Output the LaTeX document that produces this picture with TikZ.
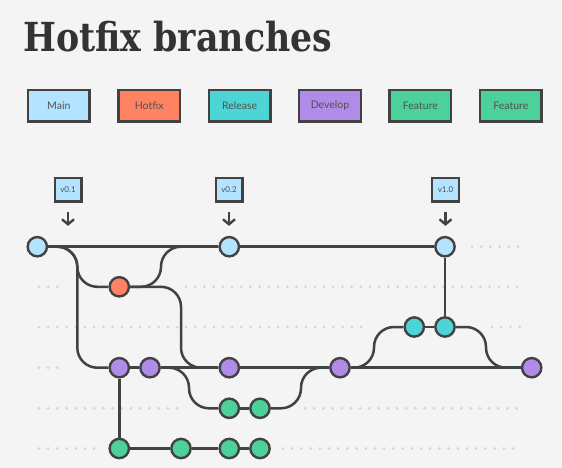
\documentclass[tikz,border=0pt]{standalone}
\usepackage{fontspec}
\setmainfont{Lato}
\newfontfamily\slabfont[FakeStretch=0.87]{DejaVu Serif}
\usetikzlibrary{arrows.meta, positioning}
\definecolor{mybg}{RGB}{244,244,244}
\definecolor{mydark}{RGB}{66,66,66}
\definecolor{mytitle}{RGB}{51,51,51}
\definecolor{mytext}{RGB}{80,80,80}
\definecolor{mydots}{RGB}{212,212,212}
\definecolor{mainblue}{RGB}{179,227,255}
\definecolor{hotred}{RGB}{255,131,99}
\definecolor{relteal}{RGB}{77,213,214}
\definecolor{devpurple}{RGB}{176,139,232}
\definecolor{featgreen}{RGB}{76,209,155}
\tikzset{
  key/.style={rectangle, draw=mydark, line width=2.4pt, minimum width=61.6pt, minimum height=31.6pt, inner sep=0pt, font=\fontsize{10.5}{11}\selectfont, text=mytext},
  tag/.style={rectangle, draw=mydark, fill=mainblue, line width=2.4pt, minimum width=26.6pt, minimum height=23.6pt, inner sep=0pt, font=\fontsize{8}{9}\selectfont, text=mytext},
  commit/.style={circle, draw=mydark, line width=2.4pt, minimum size=19.3pt, inner sep=0pt},
  branch/.style={mydark, line width=2.5pt, rounded corners=20pt},
  dotrow/.style={mydots, line width=3pt, line cap=round, dash pattern=on 0pt off 9.2pt},
  tagarrow/.style={-{Straight Barb[length=5pt, width=12pt]}, mydark, line width=2.4pt, shorten <=9pt, shorten >=10pt}
}

\begin{document}
\begin{tikzpicture}[x=1pt, y=-1pt]
  % Background
  \fill[mybg] (0,0) rectangle (562,468);
  \useasboundingbox (0,0) rectangle (562,468);

  % Title
  \node[anchor=base west, text=mytitle, inner sep=0pt, font=\slabfont\bfseries\fontsize{40}{40}\selectfont] (title) at (23,51.7) {Hotfix branches};

  % Legend
  \node[key, fill=mainblue] (keyMain) at (58.8,105.8) {Main};
  \node[key, fill=hotred, right=26.4pt of keyMain] (keyHotfix) {Hotfix};
  \node[key, fill=relteal, right=26.4pt of keyHotfix] (keyRelease) {Release};
  \node[key, fill=devpurple, right=26.4pt of keyRelease] (keyDevelop) {Develop};
  \node[key, fill=featgreen, right=26.4pt of keyDevelop] (keyFeatA) {Feature};
  \node[key, fill=featgreen, right=26.4pt of keyFeatA] (keyFeatB) {Feature};

  % Dotted lanes
  \foreach \a/\b/\y in {472/522/246.7, 39/60/286.8, 186/522/286.8, 39/370/327, 492/522/327,
                        39/65/367.7, 39/183/408.3, 305/522/408.3, 39/95/448.5, 283/522/448.5}
    \draw[dotrow] (\a,\y) -- (\b,\y);

  % Commits
  \node[commit, fill=mainblue] (v01) at (37.3,246.7) {};
  \node[commit, fill=mainblue] (v02) at (229.3,246.7) {};
  \node[commit, fill=mainblue] (v10) at (445,246.7) {};
  \node[commit, fill=hotred] (hf) at (119.3,286.8) {};
  \node[commit, fill=relteal] (r1) at (414.3,327) {};
  \node[commit, fill=relteal] (r2) at (445,327) {};
  \node[commit, fill=devpurple] (d1) at (119.3,367.7) {};
  \node[commit, fill=devpurple] (d2) at (150,367.7) {};
  \node[commit, fill=devpurple] (d3) at (229.3,367.7) {};
  \node[commit, fill=devpurple] (d4) at (340,367.7) {};
  \node[commit, fill=devpurple] (d5) at (531.7,367.7) {};
  \node[commit, fill=featgreen] (f1) at (229.3,408.3) {};
  \node[commit, fill=featgreen] (f2) at (260,408.3) {};
  \node[commit, fill=featgreen] (g1) at (119.3,448.5) {};
  \node[commit, fill=featgreen] (g2) at (181,448.5) {};
  \node[commit, fill=featgreen] (g3) at (229.3,448.5) {};
  \node[commit, fill=featgreen] (g4) at (260,448.5) {};

  % Straight links
  \foreach \a/\b in {v01/v02, v02/v10, v10/r2, r1/r2, d1/d2, d2/d3, d3/d4, d4/d5,
                     f1/f2, d1/g1, g1/g2, g2/g3, g3/g4}
    \draw[branch] (\a) -- (\b);

  % Branch and merge curves
  \draw[branch] (v01) -- (77.3,246.7) -- (77.3,367.7) -- (d1);
  \draw[branch] (v01) -- (77.3,246.7) -- (77.3,286.8) -- (hf);
  \draw[branch] (hf) -- (161,286.8) -- (161,246.7) -- (v02);
  \draw[branch] (hf) -- (181,286.8) -- (181,367.7) -- (d3);
  \draw[branch] (d2) -- (189,367.7) -- (189,408.3) -- (f1);
  \draw[branch] (f2) -- (301,408.3) -- (301,367.7) -- (d4);
  \draw[branch] (d4) -- (374,367.7) -- (374,327) -- (r1);
  \draw[branch] (r2) -- (486,327) -- (486,367.7) -- (d5);

  % Tags
  \node[tag] (t01) at (68,189.7) {v0.1};
  \node[tag] (t02) at (229,189.7) {v0.2};
  \node[tag] (t10) at (445.5,189.7) {v1.0};
  \draw[tagarrow] (t01.south) -- (t01.south |- v01.north);
  \draw[tagarrow] (t02.south) -- (t02.south |- v02.north);
  \draw[tagarrow] (t10.south) -- (t10.south |- v10.north);
\end{tikzpicture}
\end{document}
